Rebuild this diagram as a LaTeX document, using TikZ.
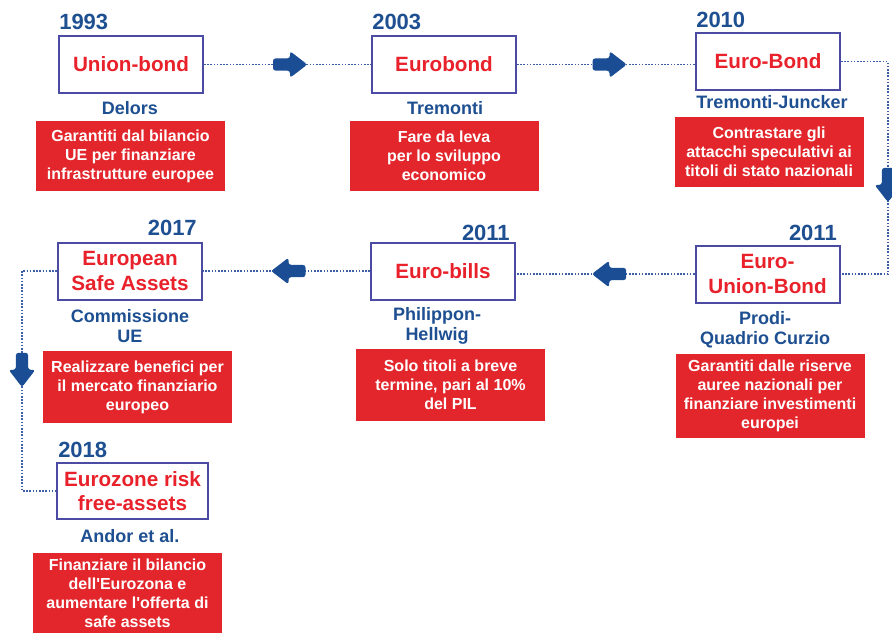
\documentclass[tikz,border=0pt]{standalone}
\usepackage{fontspec}
\setmainfont{Liberation Sans}
\usetikzlibrary{decorations.markings}
\definecolor{myyearcolor}{HTML}{1D4F91}
\definecolor{myboxcolor}{HTML}{4B4BA3}
\definecolor{mytitlecolor}{HTML}{E8212B}
\definecolor{mygoalcolor}{HTML}{E3262B}
\definecolor{myarrowcolor}{HTML}{1A4D94}
\definecolor{mydotcolor}{HTML}{3D5EA8}

\tikzset{
  yearlabel/.style={text=myyearcolor, inner sep=0pt, font=\fontsize{16.5pt}{16.5pt}\selectfont\bfseries},
  bondbox/.style={draw=myboxcolor, line width=1.5pt, fill=white, rectangle, minimum width=108pt, minimum height=42.75pt, inner sep=0pt, align=center, text=mytitlecolor, font=\fontsize{15.5pt}{18.5pt}\selectfont\bfseries},
  authorlabel/.style={text=myyearcolor, inner sep=0pt, align=center, font=\fontsize{13.5pt}{15pt}\selectfont\bfseries},
  goalbox/.style={fill=mygoalcolor, rectangle, minimum width=141.75pt, inner sep=0pt, align=center, text=white, font=\fontsize{12pt}{14.25pt}\selectfont\bfseries},
  dotlink/.style={draw=mydotcolor, line width=1.4pt, dash pattern=on 1.2pt off 1.2pt,
    postaction={decorate, decoration={markings, mark=at position #1 with {%
      \fill[myarrowcolor, solid, rounded corners=2pt] (-12.75pt,-4.6pt) -- (0pt,-4.6pt) -- (0pt,-10pt) -- (13pt,0pt) -- (0pt,10pt) -- (0pt,4.6pt) -- (-12.75pt,4.6pt) -- cycle;}}}},
  dotlink/.default=0.5
}

\begin{document}
\begin{tikzpicture}[x=0.75pt, y=-0.75pt]%
\useasboundingbox (0,0) rectangle (892,633);%
% first row
\node[bondbox] (b1) at (131,64.5) {Union-bond};%
\node[yearlabel, anchor=base west] (y1) at (59,29) {1993};%
\node[authorlabel] (a1) at (130,108) {Delors};%
\node[goalbox, minimum height=52.5pt] (g1) at (130.5,156) {Garantiti dal bilancio\\UE per finanziare\\infrastrutture europee};%
\node[bondbox] (b2) at (444,64.5) {Eurobond};%
\node[yearlabel, anchor=base west] (y2) at (372,29) {2003};%
\node[authorlabel] (a2) at (445,108) {Tremonti};%
\node[goalbox, minimum height=52.5pt] (g2) at (444,156) {Fare da leva\\per lo sviluppo\\economico};%
\node[bondbox] (b3) at (768,61.5) {Euro-Bond};%
\node[yearlabel, anchor=base west] (y3) at (696,27) {2010};%
\node[authorlabel] (a3) at (772,102) {Tremonti-Juncker};%
\node[goalbox, minimum height=52.5pt] (g3) at (769,152) {Contrastare gli\\attacchi speculativi ai\\titoli di stato nazionali};%
% second row
\node[bondbox] (b4) at (767.5,274) {Euro-\\Union-Bond};%
\node[yearlabel, anchor=base east] (y4) at (837,240) {2011};%
\node[authorlabel] (a4) at (765,330) {Prodi-\\Quadrio Curzio};%
\node[goalbox, minimum height=63pt] (g4) at (770,396) {Garantiti dalle riserve\\auree nazionali per\\finanziare investimenti\\europei};%
\node[bondbox] (b5) at (443,271) {Euro-bills};%
\node[yearlabel, anchor=base east] (y5) at (510,240) {2011};%
\node[authorlabel] (a5) at (437,326) {Philippon-\\Hellwig};%
\node[goalbox, minimum height=54pt] (g5) at (450.5,385) {Solo titoli a breve\\termine, pari al 10\%\\del PIL};%
\node[bondbox] (b6) at (130,271) {European\\Safe Assets};%
\node[yearlabel, anchor=base east] (y6) at (197,235) {2017};%
\node[authorlabel] (a6) at (130,326) {Commissione\\UE};%
\node[goalbox, minimum height=54pt] (g6) at (137.5,387) {Realizzare benefici per\\il mercato finanziario\\europeo};%
% last one
\node[bondbox, minimum width=113.25pt, minimum height=42pt] (b7) at (132.5,491) {Eurozone risk\\free-assets};%
\node[yearlabel, anchor=base west] (y7) at (58,457) {2018};%
\node[authorlabel] (a7) at (130,536) {Andor et al.};%
\node[goalbox, minimum height=60pt] (g7) at (127.5,593) {Finanziare il bilancio\\dell\textquotesingle Eurozona e\\aumentare l\textquotesingle offerta di\\safe assets};%
% dotted links
\draw[dotlink=0.515] (b1.east) -- (b2.west);%
\draw[dotlink=0.52] (b2.east) -- (b2.east -| b3.west);%
\draw[dotlink=0.555] (b3.east) -- ++(47,0) |- (b4.east);%
\draw[dotlink=0.478] (b4.west) -- (b4.west -| b5.east);%
\draw[dotlink=0.488] (b5.west) -- (b6.east);%
\draw[dotlink=0.463] (b6.west) -- ++(-35,0) |- (b7.west);%
\end{tikzpicture}
\end{document}
